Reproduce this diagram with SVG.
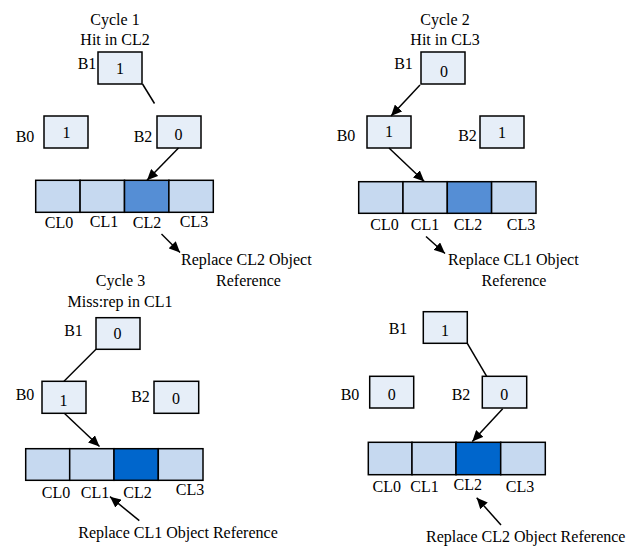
<svg xmlns="http://www.w3.org/2000/svg" width="642" height="546" viewBox="0 0 642 546">
<defs>
<marker id="ah" markerUnits="userSpaceOnUse" markerWidth="12" markerHeight="10" refX="11" refY="5" orient="auto">
<path d="M0,0 L11,5 L0,10 Z" fill="#000"/>
</marker>
<style>
text{font-family:"Liberation Serif","Times New Roman",serif;font-size:16px;fill:#000}
.m{text-anchor:middle}
.box{fill:#E6EEF8;stroke:#000;stroke-width:1.5}
.cl{fill:#C6D9F0;stroke:#000;stroke-width:1.5}
.c2{fill:#558ED5;stroke:#000;stroke-width:1.5}
.c3{fill:#0066CC;stroke:#000;stroke-width:1.5}
.ln{stroke:#000;stroke-width:1.5;fill:none}
.ar{stroke:#000;stroke-width:1.5;fill:none;marker-end:url(#ah)}
</style>
</defs>
<rect width="642" height="546" fill="#fff"/>

<!-- Panel 1 -->
<g id="p1-title"><text class="m" x="115" y="25">Cycle 1</text><text class="m" x="115" y="45">Hit in CL2</text></g>
<g id="p1-b1"><rect class="box" x="98" y="52" width="44" height="32"/><text class="m" x="120" y="74">1</text><text class="m" x="87" y="69">B1</text></g>
<g id="p1-b0"><rect class="box" x="44" y="116" width="44" height="32"/><text class="m" x="66.5" y="138">1</text><text class="m" x="25" y="141.5">B0</text></g>
<g id="p1-b2"><rect class="box" x="157" y="116" width="44" height="32"/><text class="m" x="178.5" y="139.5">0</text><text class="m" x="143" y="142">B2</text></g>
<g id="p1-row">
<rect class="cl" x="35.7" y="180.3" width="44.4" height="32"/>
<rect class="cl" x="80.1" y="180.3" width="44.4" height="32"/>
<rect class="c2" x="124.5" y="180.3" width="44.4" height="32"/>
<rect class="cl" x="168.9" y="180.3" width="44.4" height="32"/>
<text class="m" x="59" y="228">CL0</text><text class="m" x="104" y="226.7">CL1</text><text class="m" x="147" y="228">CL2</text><text class="m" x="194" y="227">CL3</text>
</g>
<g id="p1-note"><text x="181" y="265">Replace CL2 Object</text><text class="m" x="248.5" y="285.5">Reference</text></g>

<!-- Panel 2 -->
<g id="p2-title"><text class="m" x="445" y="25">Cycle 2</text><text class="m" x="445" y="45">Hit in CL3</text></g>
<g id="p2-b1"><rect class="box" x="421" y="52" width="44" height="32"/><text class="m" x="444" y="77">0</text><text class="m" x="403.5" y="69">B1</text></g>
<g id="p2-b0"><rect class="box" x="367" y="116" width="44" height="32"/><text class="m" x="389" y="137">1</text><text class="m" x="346" y="141">B0</text></g>
<g id="p2-b2"><rect class="box" x="480" y="116" width="44" height="32"/><text class="m" x="502" y="138">1</text><text class="m" x="467.5" y="141">B2</text></g>
<g id="p2-row">
<rect class="cl" x="358.7" y="181.7" width="44.3" height="31.6"/>
<rect class="cl" x="403" y="181.7" width="44.3" height="31.6"/>
<rect class="c2" x="447.3" y="181.7" width="44.3" height="31.6"/>
<rect class="cl" x="491.6" y="181.7" width="44.4" height="31.6"/>
<text class="m" x="384.5" y="230">CL0</text><text class="m" x="425" y="230">CL1</text><text class="m" x="468" y="230">CL2</text><text class="m" x="521" y="230">CL3</text>
</g>
<g id="p2-note"><text x="448" y="265">Replace CL1 Object</text><text class="m" x="514" y="285.5">Reference</text></g>

<!-- Panel 3 -->
<g id="p3-title"><text class="m" x="120.5" y="286">Cycle 3</text><text class="m" x="120" y="307">Miss:rep in CL1</text></g>
<g id="p3-b1"><rect class="box" x="96" y="317.7" width="44" height="31.6"/><text class="m" x="117.5" y="339">0</text><text class="m" x="73.5" y="336">B1</text></g>
<g id="p3-b0"><rect class="box" x="42" y="381.3" width="44" height="32"/><text class="m" x="63.5" y="406">1</text><text class="m" x="25" y="400">B0</text></g>
<g id="p3-b2"><rect class="box" x="154" y="381.3" width="44.7" height="32"/><text class="m" x="176" y="404">0</text><text class="m" x="140.5" y="401.5">B2</text></g>
<g id="p3-row">
<rect class="cl" x="25.7" y="448.7" width="44" height="31.6"/>
<rect class="cl" x="69.7" y="448.7" width="44.3" height="31.6"/>
<rect class="c3" x="114" y="448.7" width="44.3" height="31.6"/>
<rect class="cl" x="158.3" y="448.7" width="44.7" height="31.6"/>
<text class="m" x="56" y="497.5">CL0</text><text class="m" x="95" y="497.5">CL1</text><text class="m" x="137.5" y="497.5">CL2</text><text class="m" x="190" y="495">CL3</text>
</g>
<g id="p3-note"><text x="78.3" y="538">Replace CL1 Object Reference</text></g>

<!-- Panel 4 -->
<g id="p4-b1"><rect class="box" x="423.3" y="311.7" width="44" height="31.6"/><text class="m" x="445" y="335.7">1</text><text class="m" x="398" y="334">B1</text></g>
<g id="p4-b0"><rect class="box" x="369.7" y="376.3" width="44" height="31.7"/><text class="m" x="391.7" y="400">0</text><text class="m" x="350" y="400">B0</text></g>
<g id="p4-b2"><rect class="box" x="482.3" y="376.3" width="44.4" height="31.7"/><text class="m" x="504.3" y="400">0</text><text class="m" x="461" y="400">B2</text></g>
<g id="p4-row">
<rect class="cl" x="368.3" y="442.3" width="43.7" height="32.4"/>
<rect class="cl" x="412" y="442.3" width="44" height="32.4"/>
<rect class="c3" x="456" y="442.3" width="44.7" height="32.4"/>
<rect class="cl" x="500.7" y="442.3" width="44.6" height="32.4"/>
<text class="m" x="386.7" y="491.7">CL0</text><text class="m" x="424.5" y="491.7">CL1</text><text class="m" x="467.8" y="490">CL2</text><text class="m" x="520" y="491.7">CL3</text>
</g>
<g id="p4-note"><text x="426" y="541.7">Replace CL2 Object Reference</text></g>

<!-- Connectors -->
<g id="connectors">
<line class="ln" x1="142.5" y1="84" x2="154.5" y2="103.5"/>
<line class="ar" x1="178.5" y1="148" x2="147" y2="180.3"/>
<line class="ar" x1="161.5" y1="234" x2="180" y2="252.5"/>
<line class="ar" x1="420" y1="85" x2="391" y2="116"/>
<line class="ar" x1="389" y1="148" x2="424.3" y2="181.5"/>
<line class="ar" x1="426" y1="236.5" x2="445" y2="253.5"/>
<line class="ln" x1="96" y1="349.3" x2="64" y2="381.3"/>
<line class="ar" x1="64.3" y1="413.3" x2="99.5" y2="446.5"/>
<line class="ar" x1="139.3" y1="520.7" x2="110" y2="496.7"/>
<line class="ln" x1="467.3" y1="343.3" x2="486.7" y2="376.3"/>
<line class="ar" x1="502.7" y1="408.7" x2="472.3" y2="441.5"/>
<line class="ar" x1="501" y1="525" x2="476.7" y2="497.7"/>
</g>
</svg>
